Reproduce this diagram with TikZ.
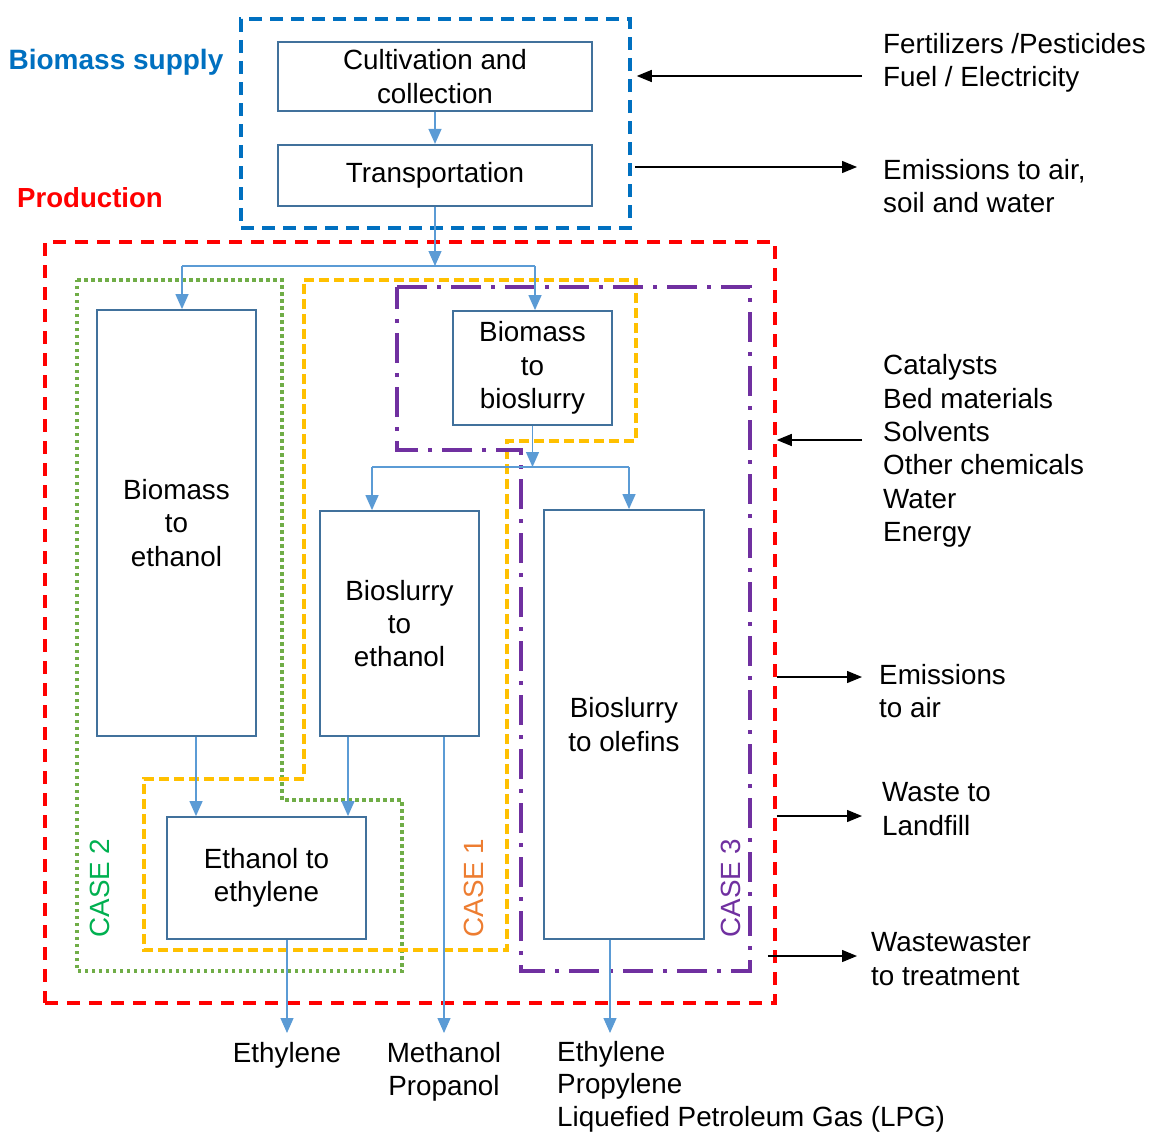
\documentclass[tikz,border=0pt]{standalone}
\usepackage{fontspec}
\setmainfont{Liberation Sans}
\usepackage{xcolor}
\usepackage{tikz}
\usetikzlibrary{positioning,arrows.meta}
\definecolor{boxblue}{HTML}{41719C}
\definecolor{flowblue}{HTML}{5B9BD5}
\definecolor{supplyblue}{HTML}{0070C0}
\definecolor{casegreen}{HTML}{70AD47}
\definecolor{casegreentext}{HTML}{00B050}
\definecolor{caseyellow}{HTML}{FFC000}
\definecolor{caseorange}{HTML}{ED7D31}
\definecolor{casepurple}{HTML}{7030A0}

\begin{document}
\begin{tikzpicture}[x=1pt, y=-1pt, font=\fontsize{27.8}{33.4}\selectfont,
	proc/.style={draw=boxblue, line width=1.8pt, fill=white, inner sep=0pt, align=center},
	flow/.style={draw=flowblue, line width=1.3pt, -{Triangle[width=13pt,length=15pt]}},
	link/.style={draw=flowblue, line width=1.3pt},
	io/.style={draw=black, line width=1.3pt, -{Triangle[width=12pt,length=15pt]}},
	side/.style={align=left, inner sep=0pt, anchor=west},
	outp/.style={anchor=north, inner xsep=0pt, inner ysep=9pt},
	supplyframe/.style={draw=supplyblue, line width=3.5pt, dash pattern=on 13pt off 8pt, inner sep=0pt},
	prodframe/.style={draw=red, line width=3.5pt, dash pattern=on 13pt off 9pt, inner sep=0pt},
	casetwo/.style={draw=casegreen, line width=3.5pt, dash pattern=on 3.5pt off 3.5pt},
	caseone/.style={draw=caseyellow, line width=3.5pt, dash pattern=on 10pt off 5pt},
	casethree/.style={draw=casepurple, line width=3.5pt, dash pattern=on 30pt off 10pt on 4pt off 10pt},
	casetext/.style={rotate=90, inner sep=0pt}]
	\useasboundingbox (0,0) rectangle (1150,1132);
	\node[supplyframe, minimum width=389pt, minimum height=209pt] (supply) at (435.5,123.5) {};
	\node[prodframe, minimum width=730pt, minimum height=761pt] (prod) at (410,622.5) {};
	\draw[casetwo] (77,280) -- (282,280) -- (282,800) -- (402,800) -- (402,971) -- (77,971) -- cycle;
	\draw[caseone] (304,280) -- (636,280) -- (636,441) -- (507,441) -- (507,950) -- (144,950) -- (144,779) -- (304,779) -- cycle;
	\draw[casethree] (397,287) -- (750,287) -- (750,971) -- (521,971) -- (521,450) -- (397,450) -- cycle;
	\node[font=\fontsize{28}{30}\selectfont\bfseries, text=supplyblue] (supplylabel) at (116,62) {Biomass supply};
	\node[font=\fontsize{27.6}{30}\selectfont\bfseries, text=red] (prodlabel) at (90,198) {Production};
	\node[casetext, text=casegreentext] (case2) at (100,888) {CASE 2};
	\node[casetext, text=caseorange] (case1) at (474,888) {CASE 1};
	\node[casetext, text=casepurple] (case3) at (731,888) {CASE 3};
	\node[proc, minimum width=314pt, minimum height=69pt] (cult) at (435,76.5) {Cultivation and\\collection};
	\node[proc, minimum width=314pt, minimum height=61pt, below=32pt of cult] (trans) {Transportation};
	\node[proc, minimum width=159pt, minimum height=114pt] (slurry) at (532.5,368) {Biomass\\to\\bioslurry};
	\node[proc, minimum width=159pt, minimum height=426pt] (b2eth) at (176.5,523) {Biomass\\to\\ethanol};
	\node[proc, minimum width=159pt, minimum height=225pt] (s2eth) at (399.5,623.5) {Bioslurry\\to\\ethanol};
	\node[proc, minimum width=160pt, minimum height=429pt] (olefins) at (624,724.5) {Bioslurry\\to olefins};
	\node[proc, minimum width=199pt, minimum height=122pt] (ethylene) at (266.5,878) {Ethanol to\\ethylene};
	\node[outp] (outeth) at (287,1033) {Ethylene};
	\node[outp, align=center] (outalc) at (444,1033) {Methanol\\Propanol};
	\node[outp, anchor=north west, align=left, inner ysep=8pt, font=\fontsize{27.8}{32.5}\selectfont] (outole) at (557,1033) {Ethylene\\Propylene\\Liquefied Petroleum Gas (LPG)};
	\draw[flow] (cult) -- (trans);
	\coordinate (split1) at (435,266);
	\coordinate (split1l) at (182,266);
	\coordinate (split1r) at (535,266);
	\draw[flow] (trans) -- (split1);
	\draw[link] (split1l) -- (split1r);
	\draw[flow] (split1l) -- (split1l |- b2eth.north);
	\draw[flow] (split1r) -- (split1r |- slurry.north);
	\coordinate (split2) at (533,467);
	\coordinate (split2l) at (372,467);
	\coordinate (split2r) at (629,467);
	\draw[flow] (slurry) -- (slurry |- split2);
	\draw[link] (split2l) -- (split2r);
	\draw[flow] (split2l) -- (split2l |- s2eth.north);
	\draw[flow] (split2r) -- (split2r |- olefins.north);
	\draw[flow] ([xshift=19.5pt]b2eth.south) -- ([xshift=19.5pt]b2eth.south |- ethylene.north);
	\draw[flow] ([xshift=-51.5pt]s2eth.south) -- ([xshift=-51.5pt]s2eth.south |- ethylene.north);
	\draw[flow] ([xshift=44.5pt]s2eth.south) -- ([xshift=44.5pt]s2eth.south |- outalc.north);
	\draw[flow] ([xshift=20.5pt]ethylene.south) -- ([xshift=20.5pt]ethylene.south |- outeth.north);
	\draw[flow] ([xshift=-14pt]olefins.south) -- ([xshift=-14pt]olefins.south |- outole.north);
	\node[side] (feed) at (883,63) {Fertilizers /Pesticides\\Fuel / Electricity};
	\node[side] (emis) at (883,186) {Emissions to air,\\soil and water};
	\node[side] (chem) at (883,451) {Catalysts\\Bed materials\\Solvents\\Other chemicals\\Water\\Energy};
	\node[side] (air) at (879,691) {Emissions\\to air};
	\node[side] (waste) at (882,809) {Waste to\\Landfill};
	\node[side] (water) at (871,959) {Wastewaster\\to treatment};
	\coordinate (feedin) at (862,76);
	\coordinate (emisout) at (857,167);
	\coordinate (chemin) at (862,440);
	\coordinate (airout) at (862,677);
	\coordinate (wasteout) at (862,816);
	\coordinate (waterout) at (857,956);
	\draw[io, shorten >=5pt] (feedin) -- (feedin -| supply.east);
	\draw[io, shorten <=3pt] (emisout -| supply.east) -- (emisout);
	\draw[io] (chemin) -- (chemin -| prod.east);
	\draw[io] (airout -| prod.east) -- (airout);
	\draw[io] (wasteout -| prod.east) -- (wasteout);
	\draw[io, shorten <=-9pt] (waterout -| prod.east) -- (waterout);
\end{tikzpicture}
\end{document}
